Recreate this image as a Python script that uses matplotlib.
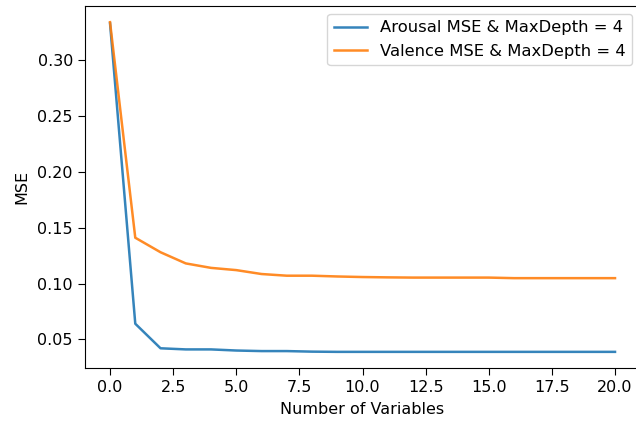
import matplotlib
matplotlib.use("Agg")
import matplotlib.pyplot as plt

# number of variables kept
n_vars = list(range(21))

arousal_mse = [0.333, 0.064, 0.042, 0.041, 0.041, 0.0400, 0.0395, 0.0395, 0.0390, 0.0388,
               0.0388, 0.0388, 0.0388, 0.0388, 0.0388, 0.0388, 0.0388, 0.0388, 0.0388, 0.0388, 0.0388]
valence_mse = [0.334, 0.141, 0.128, 0.118, 0.114, 0.112, 0.1085, 0.107, 0.107, 0.1063,
               0.1058, 0.1055, 0.1053, 0.1053, 0.1053, 0.1053, 0.1048, 0.1048, 0.1048, 0.1048, 0.1048]

labels = ['Arousal MSE & MaxDepth = 4', 'Valence MSE & MaxDepth = 4']

plt.rcParams['font.size'] = 11.5

fig, ax = plt.subplots(figsize=(6.36, 4.25), dpi=100)
# the original is cropped on the right, the right spine falls just outside
fig.subplots_adjust(left=0.1333, right=1.0067, top=0.9866, bottom=0.1333)

ax.plot(n_vars, arousal_mse, label=labels[0], lw=1.8, alpha=0.9)
ax.plot(n_vars, valence_mse, label=labels[1], lw=1.8, alpha=0.9)
ax.tick_params(length=5)
ax.set_xlabel("Number of Variables", labelpad=5)
ax.set_ylabel("MSE", labelpad=6)
ax.legend(loc='upper right', fontsize=11.8)

fig.savefig("out.png")
